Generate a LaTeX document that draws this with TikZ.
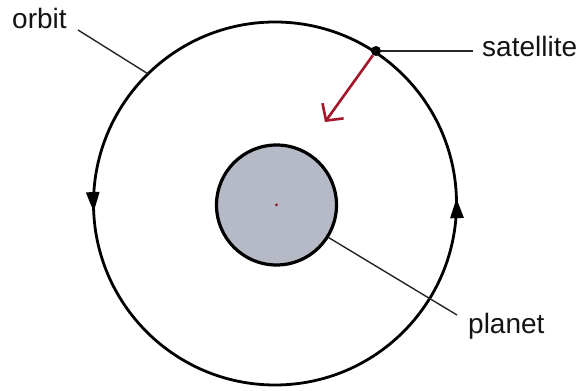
\documentclass[tikz,border=0pt]{standalone}
\usepackage{fontspec}
\setmainfont{Liberation Sans}
\usetikzlibrary{arrows.meta,decorations.markings,calc}
\definecolor{planetfill}{RGB}{182,186,198}
\definecolor{forcered}{RGB}{165,22,42}
\tikzset{
  orbitline/.style={line width=2.8pt,black},
  leader/.style={line width=1.4pt,black!85},
  lbl/.style={inner sep=0pt,anchor=base west,font=\fontsize{28}{32}\selectfont,text=black!92},
  planetbody/.style={circle,draw=black,line width=3.2pt,fill=planetfill,minimum size=120pt,inner sep=0pt},
  satdot/.style={circle,fill=black,minimum size=10pt,inner sep=0pt},
  orbitarrow/.style={decoration={markings,
      mark=at position 0.2575 with {\arrow{Triangle[length=20pt,width=13pt]}},
      mark=at position 0.7547 with {\arrow{Triangle[length=20pt,width=13pt]}}},
    postaction={decorate}},
}
\begin{document}
\begin{tikzpicture}[x=1pt,y=1pt]
\useasboundingbox (0,0) rectangle (579,391);
\fill[white] (0,0) rectangle (579,391);
% orbit
\coordinate (O) at (275,187.5);
\draw[orbitline,orbitarrow] (O) ++(90:181.5) arc[start angle=90,end angle=450,radius=181.5];
% planet
\node[planetbody] (P) at (276.5,186) {};
\fill[forcered!80!black] (P.center) circle (1.5);
% satellite
\node[satdot] (S) at (376,340) {};
\coordinate (T) at (325,269);
\draw[line width=2.6pt,forcered,-{Straight Barb[length=12pt,width=26pt,line width=2.6pt]}] (S) -- (T);
% labels
\node[lbl] (orbitlbl) at (12,362) {orbit};
\node[lbl] (satlbl) at (482,334) {satellite};
\node[lbl] (planetlbl) at (468,57) {planet};
% leaders
\coordinate (orbitstart) at (78,361);
\coordinate (orbitend) at ($(O)+(134.4:181.5)$);
\coordinate (satend) at (473,340);
\coordinate (planetend) at (457,76);
\draw[leader] (orbitstart) -- (orbitend);
\draw[leader] (S) -- (satend);
\draw[leader] (P.{-32}) -- (planetend);
\end{tikzpicture}
\end{document}
